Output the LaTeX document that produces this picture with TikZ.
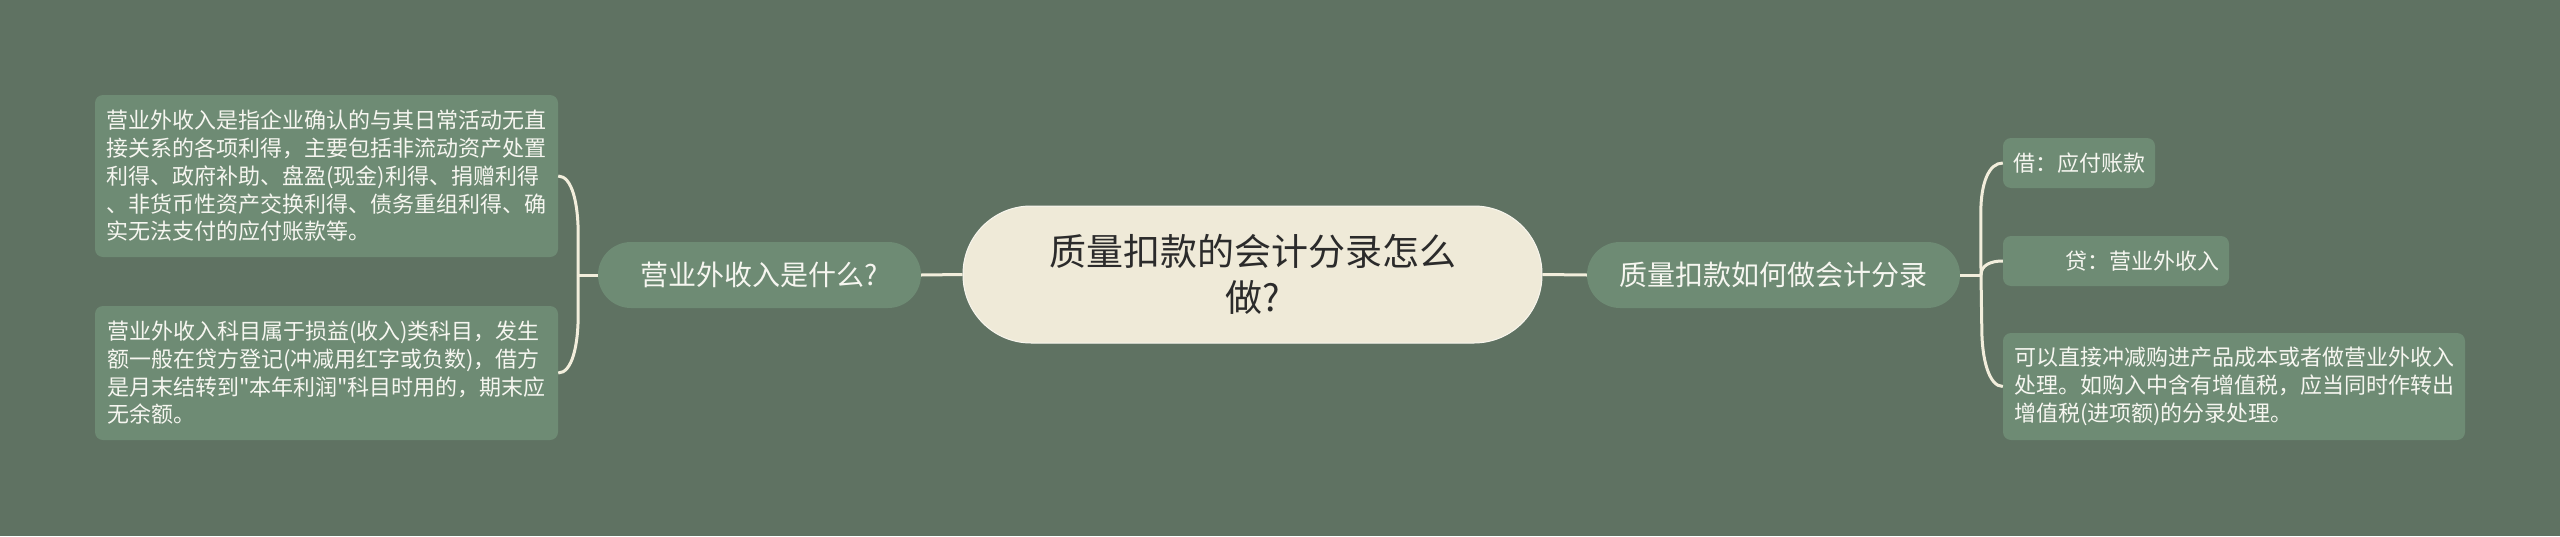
\documentclass[tikz,border=0pt]{standalone}
\usepackage{fontspec}
\newfontfamily\cjk{Noto Sans CJK SC}
\definecolor{bgc}{HTML}{5F7262}
\definecolor{nodec}{HTML}{6E8B74}
\definecolor{rootc}{HTML}{EFEAD8}
\definecolor{rootedge}{HTML}{F8F6EE}
\definecolor{linec}{HTML}{F2EEDC}
\definecolor{darkc}{HTML}{2B2B2B}
\definecolor{lighttext}{HTML}{F6F6F0}
\begin{document}
\begin{tikzpicture}[x=1pt,y=-1pt,
		link/.style={draw=linec,line width=3pt},
		root/.style={fill=rootc,draw=rootedge,line width=1pt,rounded corners=68pt,minimum width=579pt,minimum height=137pt,inner sep=0pt,align=center,text=darkc,font=\cjk\fontsize{37}{46}\selectfont},
		branch/.style={fill=nodec,rounded corners=33pt,minimum height=66pt,inner sep=0pt,text=lighttext,font=\cjk\fontsize{28}{34}\selectfont},
		leaf/.style={fill=nodec,rounded corners=8pt,inner sep=0pt,align=left,text=lighttext,font=\cjk\fontsize{22}{27.7}\selectfont}]
		\fill[bgc] (0,0) rectangle (2560,536);
		\useasboundingbox (0,0) rectangle (2560,536);
		\path
			(1252.5,274.5) node[root] (root) {质量扣款的会计分录怎么\\做?}
			(759.5,275) node[branch,minimum width=323pt] (what) {营业外收入是什么?}
			(1773.5,275) node[branch,minimum width=373pt] (how) {质量扣款如何做会计分录}
			(326.5,176) node[leaf,minimum width=463pt,minimum height=162pt] (what-0) {营业外收入是指企业确认的与其日常活动无直\\接关系的各项利得，主要包括非流动资产处置\\利得、政府补助、盘盈(现金)利得、捐赠利得\\、非货币性资产交换利得、债务重组利得、确\\实无法支付的应付账款等。}
			(326.5,373) node[leaf,minimum width=463pt,minimum height=134pt] (what-1) {营业外收入科目属于损益(收入)类科目，发生\\额一般在贷方登记(冲减用红字或负数)，借方\\是月末结转到"本年利润"科目时用的，期末应\\无余额。}
			(2079,163) node[leaf,minimum width=152pt,minimum height=50pt] (how-0) {借：应付账款}
			(2116,261) node[leaf,minimum width=226pt,minimum height=50pt,text width=206pt,align=right] (how-1) {贷：营业外收入}
			(2234,386.5) node[leaf,minimum width=462pt,minimum height=107pt] (how-2) {可以直接冲减购进产品成本或者做营业外收入\\处理。如购入中含有增值税，应当同时作转出\\增值税(进项额)的分录处理。}
			(578,275) coordinate (jl)
			(1981,275) coordinate (jr)
			;
		\draw[link] (root.west) -- (what.east);
		\draw[link] (root.east) -- (how.west);
		\draw[link] (what.west) -- (jl);
		\draw[link] (how.east) -- (jr);
		\draw[link] (what-0.east) .. controls +(14,0) and +(0,-30) .. +(20,58) -- (jl);
		\draw[link] (what-1.east) .. controls +(14,0) and +(0,30) .. +(20,-58) -- (jl);
		\draw[link] (how-0.west) .. controls +(-14,0) and +(0,-30) .. +(-22,50) -- (jr);
		\draw[link] (jr) .. controls +(0,-10) and +(-12,0) .. (how-1.west);
		\draw[link] (how-2.west) .. controls +(-14,0) and +(0,30) .. +(-21,-58) -- (jr);
	\end{tikzpicture}
\end{document}
